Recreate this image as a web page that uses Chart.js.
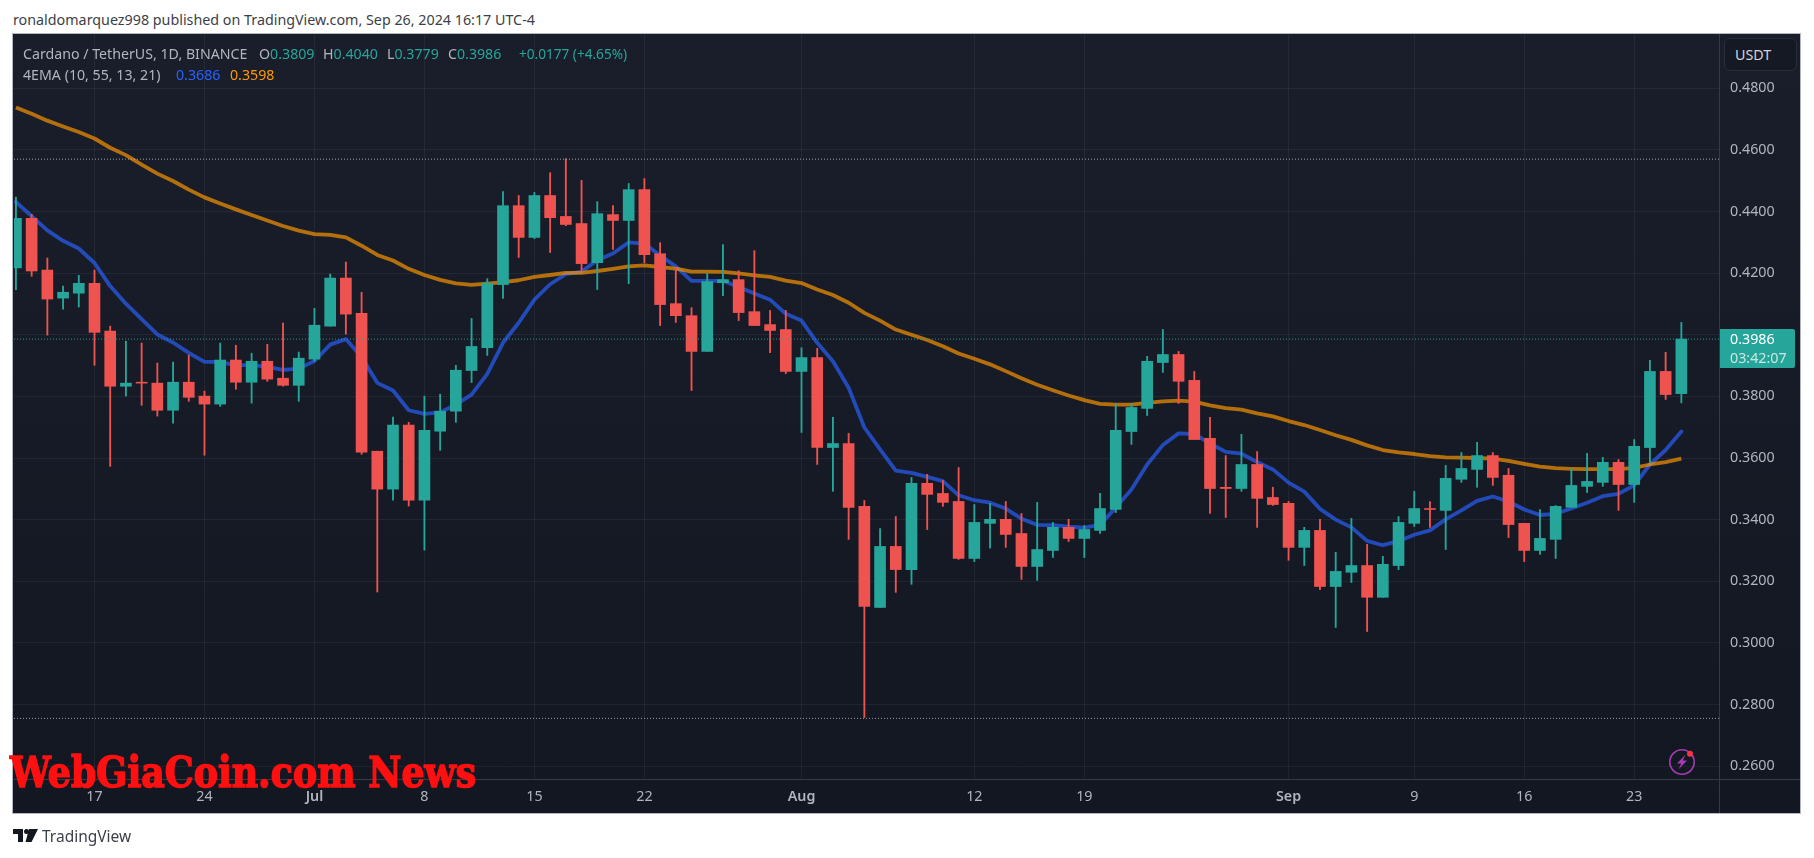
<!DOCTYPE html>
<html>
<head>
<meta charset="utf-8">
<title>ADA/USDT</title>
<script src="https://cdn.jsdelivr.net/npm/chart.js@4"></script>
<style>
  html, body { margin: 0; padding: 0; background: #fff; width: 1814px; height: 858px; overflow: hidden; }
  body { font-family: "Noto Sans", sans-serif; position: relative; }
  .abs { position: absolute; white-space: nowrap; }
  #frame { left: 13px; top: 34px; width: 1787px; height: 779px; box-sizing: content-box;
    background: linear-gradient(#1a1e2a, #131722); outline: 1px solid #b4b7c2; }
  canvas { position: absolute; left: 0; top: 0; }
  .lg { font-size: 14.2px; line-height: 20px; color: #b2b5be; }
  .tl { color: #26a69a; }
</style>
</head>
<body>
<div class="abs" style="left:13px;top:9px;font-size:14.3px;line-height:22px;color:#3c3f48">ronaldomarquez998 published on TradingView.com, Sep 26, 2024 16:17 UTC-4</div>
<div class="abs" id="frame"></div>
<canvas id="chart" width="1814" height="858"></canvas>

<!-- axis rules that run past the plot -->
<div class="abs" style="left:1719px;top:34px;width:1px;height:779px;background:#363a45"></div>
<div class="abs" style="left:14px;top:779px;width:1786px;height:1px;background:#363a45"></div>

<!-- legend -->
<div class="abs lg" style="left:23px;top:44px">Cardano / TetherUS, 1D, BINANCE</div>
<div class="abs lg" style="left:259px;top:44px">O<span class="tl">0.3809</span></div>
<div class="abs lg" style="left:323px;top:44px">H<span class="tl">0.4040</span></div>
<div class="abs lg" style="left:387px;top:44px">L<span class="tl">0.3779</span></div>
<div class="abs lg" style="left:448px;top:44px">C<span class="tl">0.3986</span></div>
<div class="abs lg tl" style="left:519px;top:44px;font-size:13.6px">+0.0177 (+4.65%)</div>
<div class="abs lg" style="left:23px;top:65px">4EMA (10, 55, 13, 21)</div>
<div class="abs lg" style="left:176px;top:65px;color:#2962ff">0.3686</div>
<div class="abs lg" style="left:230px;top:65px;color:#ff9800">0.3598</div>

<!-- currency button and last price tag -->
<div class="abs" style="left:1724px;top:38px;width:71px;height:31px;border:1.5px solid #2a2e39;border-radius:6px;background:#151924;color:#d1d4dc;font-size:14.3px;line-height:31px;text-indent:10px">USDT</div>
<div class="abs" style="left:1720px;top:329px;width:65px;height:39px;padding-left:10px;background:#26a69a;border-radius:0 2px 2px 0;font-size:14.3px;line-height:19px;color:#fff">0.3986<br><span style="color:#c8e6e2">03:42:07</span></div>

<!-- lightning badge -->
<svg class="abs" style="left:1666px;top:746px" width="32" height="32" viewBox="0 0 32 32">
  <circle cx="16" cy="16" r="12.2" fill="none" stroke="#a63bb5" stroke-width="1.6"/>
  <path d="M19.5 8.5 L11 17.5 L15.2 17.5 L12.5 23.5 L21 14.6 L16.8 14.6 Z" fill="#a63bb5"/>
  <circle cx="24" cy="7.8" r="3" fill="#f23645"/>
</svg>

<!-- watermark -->
<div class="abs" id="wm" style="left:10px;top:745px;font-family:'DejaVu Serif',serif;font-weight:bold;font-size:43px;line-height:55px;color:#ff1010;-webkit-text-stroke:1.6px #ff1010;transform-origin:0 0;transform:scaleX(.845)">WebGiaCoin.com News</div>

<!-- footer logo -->
<svg class="abs" style="left:13px;top:829px" width="25" height="13" viewBox="0 0 25 13">
  <path d="M0 0H10V13H5V5H0Z M16 0H25L18.5 13H12.5Z" fill="#131722"/>
  <circle cx="13.5" cy="2.6" r="2.5" fill="#131722"/>
</svg>
<div class="abs" style="left:42px;top:825px;font-size:15.5px;line-height:22px;color:#3c3f48">TradingView</div>

<script>
// day 0 is Jun 12 2024, one candle per day up to Sep 26
const opens = [
  0.4217,0.4378,0.4210,0.4119,0.4135,0.4167,0.4012,0.3833,0.3846,0.3843,
  0.3755,0.3846,0.3801,0.3775,0.3918,0.3846,0.3914,0.3859,0.3836,0.3921,
  0.4028,0.4184,0.4070,0.3622,0.3499,0.3707,0.3463,0.3687,0.3752,0.3884,
  0.3958,0.4163,0.4419,0.4316,0.4452,0.4384,0.4361,0.4234,0.4390,0.4371,
  0.4471,0.4263,0.4101,0.4062,0.3946,0.4169,0.4179,0.4075,0.4033,0.4017,
  0.3881,0.3926,0.3634,0.3647,0.3443,0.3115,0.3313,0.3238,0.3518,0.3485,
  0.3459,0.3274,0.3388,0.3401,0.3355,0.3248,0.3300,0.3375,0.3339,0.3365,
  0.3433,0.3686,0.3761,0.3910,0.3936,0.3852,0.3664,0.3505,0.3501,0.3579,
  0.3472,0.3453,0.3310,0.3365,0.3183,0.3229,0.3251,0.3148,0.3251,0.3388,
  0.3436,0.3430,0.3531,0.3563,0.3608,0.3544,0.3388,0.3300,0.3336,0.3440,
  0.3508,0.3521,0.3586,0.3514,0.3634,0.3881,0.3809
];
const highs = [
  0.4447,0.4391,0.4249,0.4158,0.4193,0.4210,0.4028,0.3979,0.3973,0.3908,
  0.3911,0.3934,0.3817,0.3973,0.3966,0.3940,0.3969,0.4038,0.3944,0.4086,
  0.4197,0.4236,0.4138,0.3622,0.3733,0.3716,0.3801,0.3807,0.3901,0.4053,
  0.4182,0.4465,0.4452,0.4462,0.4526,0.4571,0.4501,0.4432,0.4419,0.4491,
  0.4507,0.4299,0.4218,0.4088,0.4199,0.4293,0.4208,0.4273,0.4079,0.4079,
  0.3958,0.3956,0.3732,0.3680,0.3462,0.3371,0.3410,0.3537,0.3547,0.3527,
  0.3569,0.3449,0.3453,0.3459,0.3420,0.3456,0.3391,0.3401,0.3381,0.3485,
  0.3777,0.3777,0.3930,0.4017,0.3946,0.3881,0.3732,0.3608,0.3677,0.3621,
  0.3505,0.3459,0.3375,0.3401,0.3294,0.3404,0.3320,0.3281,0.3410,0.3492,
  0.3459,0.3576,0.3618,0.3651,0.3618,0.3566,0.3388,0.3433,0.3446,0.3566,
  0.3615,0.3602,0.3595,0.3660,0.3917,0.3943,0.4040
];
const lows = [
  0.4146,0.4190,0.3999,0.4083,0.4090,0.3901,0.3573,0.3801,0.3771,0.3736,
  0.3713,0.3784,0.3609,0.3768,0.3823,0.3778,0.3849,0.3833,0.3784,0.3914,
  0.4028,0.4002,0.3612,0.3165,0.3463,0.3444,0.3301,0.3625,0.3716,0.3845,
  0.3933,0.4118,0.4251,0.4312,0.4267,0.4354,0.4205,0.4147,0.4277,0.4166,
  0.4234,0.4030,0.4040,0.3819,0.3946,0.4127,0.4046,0.4030,0.3942,0.3874,
  0.3683,0.3579,0.3492,0.3336,0.2758,0.3115,0.3164,0.3190,0.3368,0.3443,
  0.3271,0.3264,0.3307,0.3310,0.3206,0.3203,0.3277,0.3329,0.3277,0.3355,
  0.3423,0.3644,0.3738,0.3878,0.3777,0.3660,0.3420,0.3407,0.3492,0.3375,
  0.3446,0.3268,0.3251,0.3173,0.3050,0.3196,0.3037,0.3148,0.3238,0.3378,
  0.3375,0.3303,0.3521,0.3505,0.3511,0.3342,0.3264,0.3287,0.3274,0.3440,
  0.3488,0.3508,0.3430,0.3456,0.3585,0.3790,0.3779
];
const closes = [
  0.4378,0.4207,0.4116,0.4138,0.4167,0.4008,0.3833,0.3843,0.3843,0.3755,
  0.3846,0.3797,0.3775,0.3918,0.3846,0.3914,0.3856,0.3836,0.3924,0.4031,
  0.4184,0.4067,0.3619,0.3499,0.3707,0.3463,0.3690,0.3752,0.3885,0.3962,
  0.4167,0.4419,0.4316,0.4452,0.4380,0.4358,0.4231,0.4393,0.4371,0.4471,
  0.4260,0.4098,0.4062,0.3946,0.4173,0.4179,0.4072,0.4030,0.4014,0.3881,
  0.3926,0.3634,0.3647,0.3440,0.3118,0.3313,0.3238,0.3518,0.3482,0.3456,
  0.3274,0.3391,0.3401,0.3352,0.3248,0.3303,0.3375,0.3339,0.3368,0.3436,
  0.3690,0.3764,0.3914,0.3936,0.3849,0.3660,0.3501,0.3501,0.3579,0.3469,
  0.3449,0.3310,0.3365,0.3183,0.3232,0.3251,0.3148,0.3255,0.3391,0.3436,
  0.3433,0.3534,0.3566,0.3608,0.3537,0.3384,0.3300,0.3339,0.3443,0.3511,
  0.3524,0.3586,0.3514,0.3638,0.3881,0.3806,0.3986
];
const blueEma = [
  0.4431,0.4385,0.4339,0.4305,0.4280,0.4233,0.4158,0.4101,0.4051,0.4001,
  0.3975,0.3941,0.3912,0.3912,0.3901,0.3902,0.3896,0.3886,0.3890,0.3915,
  0.3968,0.3986,0.3928,0.3844,0.3819,0.3755,0.3743,0.3748,0.3773,0.3806,
  0.3873,0.3974,0.4039,0.4114,0.4164,0.4197,0.4205,0.4242,0.4264,0.4300,
  0.4296,0.4257,0.4222,0.4175,0.4175,0.4175,0.4155,0.4134,0.4114,0.4068,
  0.4046,0.3974,0.3914,0.3828,0.3699,0.3628,0.3559,0.3552,0.3539,0.3525,
  0.3479,0.3463,0.3455,0.3436,0.3403,0.3383,0.3382,0.3377,0.3374,0.3383,
  0.3439,0.3498,0.3579,0.3642,0.3680,0.3678,0.3647,0.3620,0.3614,0.3587,
  0.3563,0.3520,0.3491,0.3435,0.3400,0.3375,0.3331,0.3317,0.3330,0.3351,
  0.3365,0.3401,0.3430,0.3461,0.3475,0.3459,0.3433,0.3415,0.3419,0.3436,
  0.3455,0.3476,0.3484,0.3511,0.3579,0.3626,0.3686
];
const orangeEma = [
  0.4738,0.4717,0.4695,0.4676,0.4658,0.4637,0.4607,0.4583,0.4552,0.4523,
  0.4499,0.4471,0.4446,0.4426,0.4407,0.4389,0.4371,0.4353,0.4338,0.4327,
  0.4324,0.4316,0.4289,0.4259,0.4241,0.4214,0.4194,0.4178,0.4167,0.4162,
  0.4166,0.4171,0.4177,0.4188,0.4194,0.4201,0.4201,0.4207,0.4214,0.4222,
  0.4225,0.4220,0.4215,0.4205,0.4205,0.4204,0.4199,0.4193,0.4188,0.4176,
  0.4168,0.4147,0.4129,0.4104,0.4071,0.4046,0.4017,0.4000,0.3983,0.3963,
  0.3939,0.3922,0.3904,0.3882,0.3859,0.3838,0.3820,0.3803,0.3788,0.3776,
  0.3773,0.3773,0.3779,0.3784,0.3786,0.3783,0.3771,0.3762,0.3757,0.3745,
  0.3735,0.3720,0.3707,0.3691,0.3674,0.3659,0.3641,0.3626,0.3618,0.3613,
  0.3606,0.3602,0.3601,0.3600,0.3598,0.3591,0.3581,0.3572,0.3567,0.3565,
  0.3564,0.3564,0.3564,0.3568,0.3579,0.3587,0.3598
];
// dotted high, last close and low lines
const rangeHigh = 0.4570;
const lastClose = 0.3986;
const rangeLow = 0.2755;

const priceTicks = [0.26,0.28,0.30,0.32,0.34,0.36,0.38,0.40,0.42,0.44,0.46,0.48];
const dayTicks = [5,12,19,26,33,40,50,61,68,81,89,96,103];
const dayLabels = ['17','24','Jul','8','15','22','Aug','12','19','Sep','9','16','23'];
const monthLabels = ['Jul','Aug','Sep'];

const xMin = -0.123, xMax = 108.46;
const yMin = 0.25582, yMax = 0.49762;

const teal = '#26a69a', red = '#ef5350';
const candleColors = closes.map((c, i) => c >= opens[i] ? teal : red);
const flatLine = v => [{x: xMin, y: v}, {x: xMax, y: v}];
const series = arr => arr.map((v, i) => ({x: i, y: v}));

const tickFont = {family: '"Noto Sans", sans-serif', size: 14.3};

new Chart(document.getElementById('chart').getContext('2d'), {
  type: 'bar',
  data: {
    datasets: [
      {label: 'High', type: 'line', data: flatLine(rangeHigh), borderColor: 'rgba(200,204,214,.75)', borderWidth: 1, borderDash: [1, 2], pointRadius: 0, order: -1},
      {label: 'Close', type: 'line', data: flatLine(lastClose), borderColor: 'rgba(38,166,154,.9)', borderWidth: 1, borderDash: [1, 2], pointRadius: 0, order: -1},
      {label: 'Low', type: 'line', data: flatLine(rangeLow), borderColor: 'rgba(200,204,214,.75)', borderWidth: 1, borderDash: [1, 2], pointRadius: 0, order: -1},
      {label: 'Body', data: closes.map((c, i) => ({x: i, y: [opens[i], c]})), backgroundColor: candleColors, barThickness: 11, grouped: false, order: 0},
      {label: 'Wick', data: highs.map((h, i) => ({x: i, y: [lows[i], h]})), backgroundColor: candleColors, barThickness: 1.2, grouped: false, order: 1},
      {label: 'EMA 55', type: 'line', data: series(orangeEma), borderColor: 'rgba(255,152,0,.68)', borderWidth: 3.8, pointRadius: 0, tension: 0, borderJoinStyle: 'round', order: 2},
      {label: 'EMA 13', type: 'line', data: series(blueEma), borderColor: 'rgba(41,98,255,.68)', borderWidth: 3.8, pointRadius: 0, tension: 0, borderJoinStyle: 'round', borderCapStyle: 'round', order: 3}
    ]
  },
  options: {
    responsive: false,
    animation: false,
    events: [],
    layout: {padding: {left: 14, top: 34, right: 14, bottom: 45}},
    plugins: {legend: {display: false}, tooltip: {enabled: false}},
    scales: {
      x: {
        type: 'linear', min: xMin, max: xMax, offset: false,
        border: {display: false},
        grid: {color: 'rgba(240,243,250,.06)', offset: false, drawTicks: false},
        afterBuildTicks: s => { s.ticks = dayTicks.map(v => ({value: v})); },
        afterFit: s => { s.height = 34; },
        ticks: {
          color: '#b2b5be', padding: 9, maxRotation: 0, autoSkip: false,
          font: ctx => ({...tickFont, weight: monthLabels.includes(dayLabels[ctx.index]) ? '600' : 'normal'}),
          callback: (v, i) => dayLabels[i]
        }
      },
      y: {
        position: 'right', min: yMin, max: yMax,
        border: {display: false},
        grid: {color: 'rgba(240,243,250,.06)', drawTicks: false},
        afterBuildTicks: s => { s.ticks = priceTicks.map(v => ({value: v})); },
        afterFit: s => { s.width = 80; },
        ticks: {color: '#b2b5be', padding: 10, font: tickFont, callback: v => v.toFixed(4)}
      }
    }
  }
});
</script>
</body>
</html>
